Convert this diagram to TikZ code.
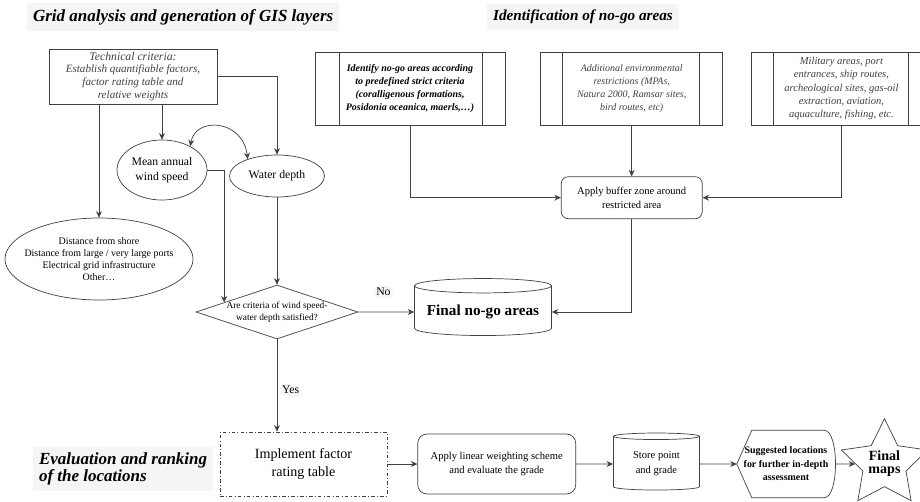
\documentclass[tikz,border=0pt]{standalone}
\usepackage{fontspec}
\setmainfont{Liberation Serif}
\usetikzlibrary{arrows.meta, positioning, shapes.geometric, calc}

\begin{document}
\begin{tikzpicture}[
    node distance=1cm,
    block/.style={rectangle, draw=black!75, line width=0.6pt, align=center, inner sep=2pt},
    predef/.style={block, minimum height=2.19cm, font=\fontsize{8.5}{11.3}\selectfont\itshape, text=black!75},
    oval/.style={ellipse, draw=black!75, line width=0.6pt, align=center, inner sep=0pt, font=\fontsize{10}{12.5}\selectfont},
    decision/.style={diamond, draw=black!75, line width=0.6pt, aspect=3, inner sep=0pt, align=center, font=\fontsize{8}{10}\selectfont},
    store/.style={cylinder, shape border rotate=90, aspect=0.12, draw=black!75, line width=0.6pt, align=center},
    title/.style={font=\fontsize{14.5}{15}\selectfont\bfseries\itshape, fill=black!4, inner sep=5pt, align=left},
    tag/.style={font=\fontsize{10}{12}\selectfont, fill=black!3, rounded corners=4pt, inner sep=2pt},
    arrow/.style={-{Stealth[length=5.5pt, width=5pt]}, draw=black!75, line width=0.6pt},
    twoway/.style={{Stealth[length=5.5pt, width=5pt]}-{Stealth[length=5.5pt, width=5pt]}, draw=black!75, line width=0.6pt},
    divider/.style={draw=black!75, line width=0.6pt}
]
\useasboundingbox (0,0) rectangle (27.6,-15.03);

% section titles
\node[title, anchor=west] (gridtitle) at (0.81,-0.51) {Grid analysis and generation of GIS layers};
\node[title, anchor=west, font=\fontsize{13}{14}\selectfont\bfseries\itshape] (nogotitle) at (14.61,-0.51) {Identification of no-go areas};
\node[title, anchor=west] (evaltitle) at (0.99,-14.07) {Evaluation and ranking\\of the locations};

% grid analysis
\node[block, minimum width=5.04cm, minimum height=1.65cm, font=\fontsize{9.5}{11}\selectfont\itshape, text=black!75] (tech) at (3.99,-2.295)
    {{\fontsize{10}{11}\selectfont Technical criteria:}\\Establish quantifiable factors,\\factor rating table and\\relative weights};
\node[oval, minimum width=2.7cm, minimum height=1.8cm] (mean) at (4.86,-5.1) {Mean annual\\wind speed};
\node[oval, minimum width=2.85cm, minimum height=1.26cm] (water) at (8.31,-5.28) {Water depth};
\node[oval, inner xsep=-0.6cm, minimum width=5.64cm, minimum height=2.46cm, font=\fontsize{8.5}{10}\selectfont] (dist) at (2.97,-7.77)
    {Distance from shore\\Distance from large / very large ports\\Electrical grid infrastructure\\Other\ldots};
\node[decision] (crit) at (8.31,-9.36) {Are criteria of wind speed-\\water depth satisfied?};
\node[store, minimum width=4.11cm, minimum height=1.71cm, font=\fontsize{13}{15}\selectfont\bfseries] (final) at (14.49,-9.36) {Final no-go areas};

% no-go areas
\node[predef, minimum width=5.7cm, font=\fontsize{8.5}{11.3}\selectfont\bfseries\itshape, text=black] (strict) at (12.3,-2.655)
    {Identify no-go areas according\\to predefined strict criteria\\(coralligenous formations,\\Posidonia oceanica, maerls,\ldots)};
\node[predef, minimum width=5.46cm, right=1.05cm of strict] (env)
    {Additional environmental\\restrictions (MPAs,\\Natura 2000, Ramsar sites,\\bird routes, etc)};
\node[predef, minimum width=5.4cm, font=\fontsize{9}{11.3}\selectfont\itshape, right=0.84cm of env] (uses)
    {Military areas, port\\entrances, ship routes,\\archeological sites, gas-oil\\extraction, aviation,\\aquaculture, fishing, etc.};
\node[block, rounded corners=6pt, minimum width=4.23cm, minimum height=1.26cm, font=\fontsize{9}{12}\selectfont, below=1.53cm of env] (buffer)
    {Apply buffer zone around\\restricted area};

\draw[divider] ([xshift=0.75cm]strict.north west) -- ([xshift=0.75cm]strict.south west)
               ([xshift=-0.7cm]strict.north east) -- ([xshift=-0.7cm]strict.south east);
\draw[divider] ([xshift=0.66cm]env.north west) -- ([xshift=0.66cm]env.south west)
               ([xshift=-0.72cm]env.north east) -- ([xshift=-0.72cm]env.south east);
\draw[divider] ([xshift=0.66cm]uses.north west) -- ([xshift=0.66cm]uses.south west)
               ([xshift=-0.69cm]uses.north east) -- ([xshift=-0.69cm]uses.south east);

% evaluation and ranking
\node[block, dash dot, minimum width=5.01cm, minimum height=1.92cm, font=\fontsize{12}{15}\selectfont] (implement) at (9.105,-13.92)
    {Implement factor\\rating table};
\node[block, rounded corners=8pt, minimum width=4.74cm, minimum height=1.8cm, font=\fontsize{9}{12}\selectfont, right=0.9cm of implement] (weight)
    {Apply linear weighting scheme\\and evaluate the grade};
\node[store, minimum width=2.58cm, minimum height=1.71cm, font=\fontsize{9}{13}\selectfont, right=1.11cm of weight] (grade)
    {Store point\\and grade};
\node[minimum width=2.94cm, minimum height=2.01cm, inner sep=0pt, align=center, font=\fontsize{8.5}{11.5}\selectfont\bfseries, right=1.11cm of grade] (suggest)
    {Suggested locations\\for further in-depth\\assessment};
\draw[divider] (suggest.west) -- ([xshift=0.45cm]suggest.north west) -- ([xshift=-0.33cm]suggest.north east)
    .. controls ([xshift=0.12cm]suggest.north east) and ([xshift=0.12cm]suggest.south east) .. ([xshift=-0.33cm]suggest.south east)
    -- ([xshift=0.45cm]suggest.south west) -- cycle;
\node[star, star points=5, star point ratio=2.0, draw=black!75, line width=0.6pt, minimum size=2.64cm, inner sep=0pt, align=center,
      font=\fontsize{12}{11}\selectfont\bfseries, right=0.6cm of suggest] (maps) {Final\\maps};

% connectors
\draw[arrow] (tech.south -| mean.north) -- (mean.north);
\draw[arrow] (tech.south -| dist.north) -- (dist.north);
\draw[arrow] (tech.east) -| (water.north);
\draw[twoway] (mean.40) .. controls +(0.15,0.9) and +(-0.15,1.2) .. (water.150);
\draw[arrow] (mean.east) -| ($(crit.west)!0.35!(crit.north)$);
\draw[arrow] (water.south) -- (crit.north);
\draw[arrow] (crit.east) -- node[tag, pos=0.45, above=0.4cm] (no) {No} (final.west);
\draw[arrow] (crit.south) -- node[tag, pos=0.55, right=2pt] (yes) {Yes} (crit.south |- implement.north);

\draw[arrow] (strict.south) |- (buffer.west);
\draw[arrow] (env.south) -- (buffer.north);
\draw[arrow] (uses.south) |- (buffer.east);
\draw[arrow] (buffer.south) |- (final.east);

\draw[arrow] (implement) -- (weight);
\draw[arrow] (weight) -- (grade);
\draw[arrow] (grade) -- (suggest);
\draw[arrow] (suggest) -- (maps);
\end{tikzpicture}
\end{document}
